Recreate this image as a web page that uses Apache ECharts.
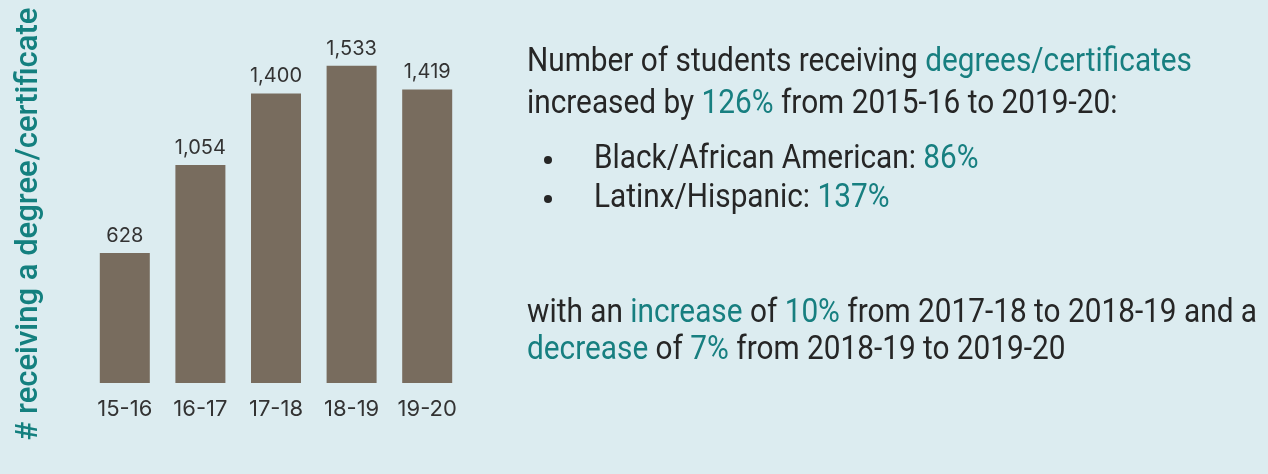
<!DOCTYPE html>
<html>
<head>
<meta charset="utf-8">
<script src="https://cdn.jsdelivr.net/npm/echarts@6/dist/echarts.min.js"></script>
<style>
  html, body { margin: 0; padding: 0; background: #dcecf0; }
  #chart { width: 1268px; height: 474px; }
</style>
</head>
<body>
<div id="chart"></div>
<script>
// Academic years and number of students receiving a degree/certificate
const years = ['15-16', '16-17', '17-18', '18-19', '19-20'];
const completions = [628, 1054, 1400, 1533, 1419];

const axisTitle = '# receiving a degree/certificate';

// Summary text: each segment is [text, style] where 'd' = dark, 't' = teal
const summaryLines = [
  [['Number of students receiving ', 'd'], ['degrees/certificates', 't']],
  [['increased by ', 'd'], ['126%', 't'], [' from 2015-16 to 2019-20:', 'd']]
];
const bulletLines = [
  [['Black/African American: ', 'd'], ['86%', 't']],
  [['Latinx/Hispanic: ', 'd'], ['137%', 't']]
];
const changeLines = [
  [['with an ', 'd'], ['increase', 't'], [' of ', 'd'], ['10%', 't'], [' from 2017-18 to 2018-19 and a', 'd']],
  [['decrease', 't'], [' of ', 'd'], ['7%', 't'], [' from 2018-19 to 2019-20', 'd']]
];

const DARK = '#262626';
const TEAL = '#177f80';
const BAR = '#786c5e';

const bodyFont = 'Roboto';
const bodySize = 34;

// Measure a line so the body text can be condensed horizontally
const ctx = document.createElement('canvas').getContext('2d');
function measure(text, font) { ctx.font = font; return ctx.measureText(text).width; }
const line1Text = summaryLines[0].map(s => s[0]).join('');
const condense = 665 / measure(line1Text, bodySize + 'px ' + bodyFont);

// Axis title size chosen so it spans the plot height
const titleFont = 'Roboto';
const titleSize = Math.round(28 * 432 / measure(axisTitle, '500 28px ' + titleFont));

function richText(segs) {
  return segs.map(s => '{' + s[1] + '|' + s[0] + '}').join('');
}
const richStyles = {
  d: { fill: DARK, fontFamily: bodyFont, fontSize: bodySize },
  t: { fill: TEAL, fontFamily: bodyFont, fontSize: bodySize }
};

function textLine(segs, x, y) {
  return {
    type: 'text', x: x, y: y, scaleX: condense, originX: 0, originY: 0,
    style: {
      text: richText(segs), rich: richStyles,
      fontFamily: bodyFont, fontSize: bodySize,
      align: 'left', verticalAlign: 'middle'
    }
  };
}

const graphics = [];
graphics.push(textLine(summaryLines[0], 527, 62));
graphics.push(textLine(summaryLines[1], 527, 104));
const bulletY = [159, 198];
bulletLines.forEach((segs, i) => {
  graphics.push({
    type: 'circle', shape: { cx: 548, cy: bulletY[i] + 1, r: 4 },
    style: { fill: DARK }
  });
  graphics.push(textLine(segs, 594, bulletY[i]));
});
graphics.push(textLine(changeLines[0], 527, 313));
graphics.push(textLine(changeLines[1], 527, 350));

graphics.push({
  type: 'text', x: 29, y: 224, rotation: Math.PI / 2,
  style: {
    text: axisTitle, fill: '#14807f',
    fontFamily: titleFont, fontWeight: 500, fontSize: titleSize,
    align: 'center', verticalAlign: 'middle'
  }
});

const chart = echarts.init(document.getElementById('chart'), null, { renderer: 'canvas' });
chart.setOption({
  backgroundColor: '#dcecf0',
  animation: false,
  grid: { left: 87, top: 52, width: 378, height: 331 },
  xAxis: {
    type: 'category', data: years,
    axisLine: { show: false }, axisTick: { show: false },
    axisLabel: {
      interval: 0,
      color: '#333333', fontFamily: 'Inter', fontSize: 22, margin: 15
    }
  },
  yAxis: {
    type: 'value', min: 0, max: 1600,
    show: false
  },
  series: [{
    type: 'bar', data: completions, barWidth: 50,
    itemStyle: { color: BAR },
    label: {
      show: true, position: 'top', distance: 7,
      color: '#333333', fontFamily: 'Inter', fontSize: 20,
      formatter: p => p.value.toLocaleString('en-US')
    }
  }],
  graphic: graphics
});
</script>
</body>
</html>
